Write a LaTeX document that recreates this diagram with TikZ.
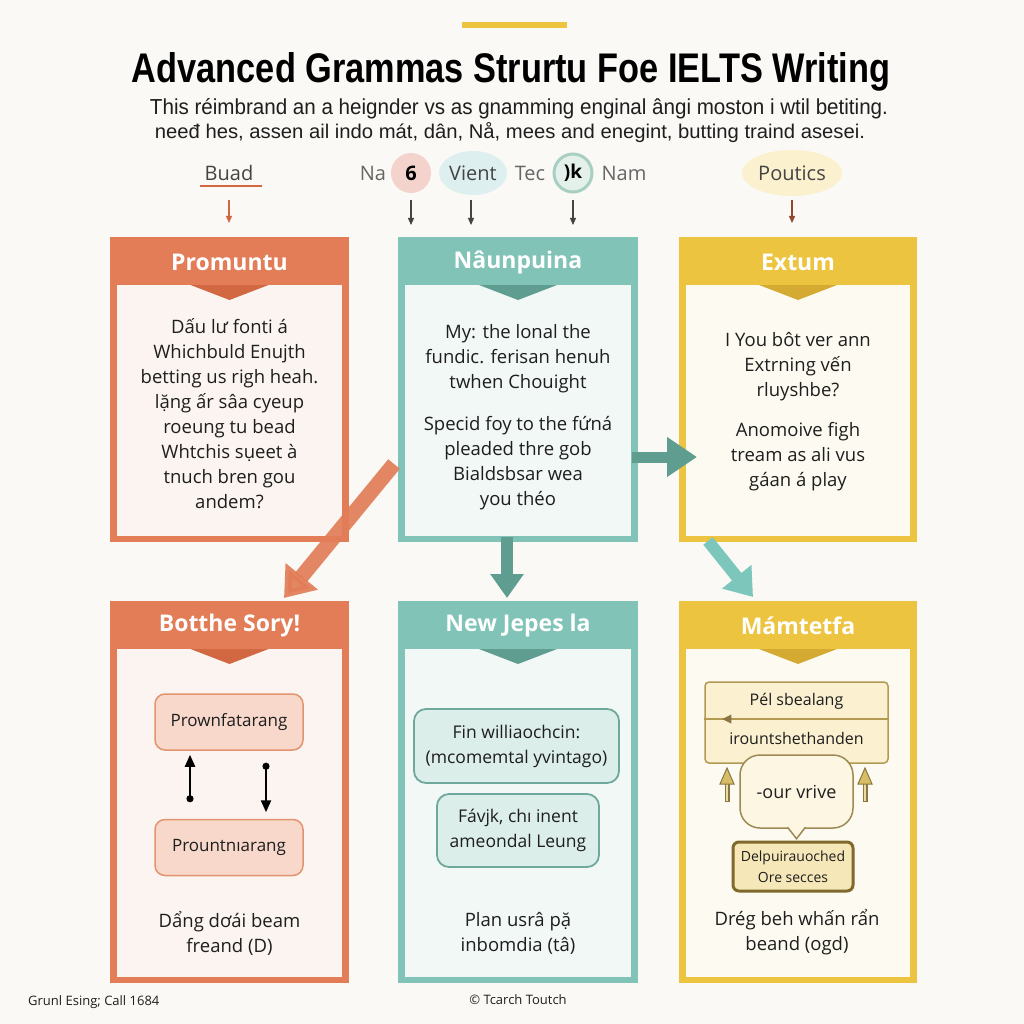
\documentclass[tikz,border=0pt]{standalone}
\usepackage{fontspec}
\setmainfont{Open Sans}
\newfontfamily\titlefont{Liberation Sans}
\usetikzlibrary{arrows.meta,shapes.geometric}
\definecolor{bg}{HTML}{FAF9F5}
\definecolor{org}{HTML}{E27D58}
\definecolor{orgd}{HTML}{D26842}
\definecolor{orgin}{HTML}{FBF4F0}
\definecolor{tea}{HTML}{82C3B7}
\definecolor{tead}{HTML}{5E9D90}
\definecolor{teal2}{HTML}{7CC6BB}
\definecolor{teain}{HTML}{F2F8F6}
\definecolor{yel}{HTML}{EDC440}
\definecolor{yeld}{HTML}{D4AA32}
\definecolor{yelin}{HTML}{FDFBF1}
\definecolor{txt}{HTML}{1E1E1E}
\definecolor{gray4}{HTML}{444444}
\definecolor{gray5}{HTML}{666666}
\definecolor{pinkc}{HTML}{F3D3CB}
\definecolor{bluec}{HTML}{DDEFEF}
\definecolor{greenc}{HTML}{E4F1EB}
\definecolor{greenb}{HTML}{A8CFC2}
\definecolor{yelc}{HTML}{FBF1CF}
\definecolor{pfill}{HTML}{F7D8CB}
\definecolor{pdraw}{HTML}{E3946F}
\definecolor{tfill}{HTML}{DCEEEA}
\definecolor{tdraw}{HTML}{6FA89C}
\definecolor{yfill}{HTML}{FBF0D0}
\definecolor{ydraw}{HTML}{B39A52}
\definecolor{bubfill}{HTML}{FDF6E2}
\definecolor{bubdraw}{HTML}{9C8A55}
\definecolor{olv}{HTML}{8A7640}
\definecolor{olvl}{HTML}{EADCA8}
\definecolor{olvt}{HTML}{D7BE66}
\definecolor{cfill}{HTML}{F6E7B8}
\definecolor{cdraw}{HTML}{7F6A2C}
\newcommand\mypanel[5]{%
  \fill[#4] ([xshift=7pt,yshift=-48pt]#1.north west) rectangle ([xshift=-7pt,yshift=6pt]#1.south east);
  \fill[#3] ([xshift=-39pt,yshift=-48pt]#1.north) -- ([xshift=39pt,yshift=-48pt]#1.north) -- ([yshift=-63pt]#1.north) -- cycle;
  \node[headtxt] (#1h) at ([yshift=-25pt]#1.north) {#5};}
\newcommand\myuparrow[1]{%
  \draw[line width=5pt, olv] (#1,802) -- (#1,782);
  \draw[line width=2pt, olvl] (#1,800.5) -- (#1,782);
  \filldraw[fill=olvt, draw=olv, line width=1pt] (#1-7,784) -- (#1+7,784) -- (#1,768) -- cycle;}
\begin{document}
\begin{tikzpicture}[x=1pt,y=-1pt,
  frame/.style={rectangle,inner sep=0pt,outer sep=0pt,draw=none},
  headtxt/.style={text=white,font=\fontsize{23}{27}\selectfont\bfseries,inner sep=0pt},
  body/.style={align=center,text=txt,font=\fontsize{18.5}{25}\selectfont,inner sep=0pt},
  lbl/.style={font=\fontsize{20}{24}\selectfont,inner sep=0pt},
  thinarr/.style={line width=1.2pt,-{Triangle[width=6pt,length=7pt]}},
  pbox/.style={rectangle,rounded corners=10pt,fill=pfill,draw=pdraw,line width=1.5pt,minimum width=148pt,minimum height=56pt,font=\fontsize{17}{20}\selectfont,text=txt},
  tbox/.style={rectangle,rounded corners=12pt,fill=tfill,draw=tdraw,line width=1.8pt,align=center,font=\fontsize{17.5}{25}\selectfont,text=txt},
  ]
\fill[bg] (0,0) rectangle (1024,1024);
\useasboundingbox (0,0) rectangle (1024,1024);

% header
\fill[yel] (462,22) rectangle (567,28);
\node[anchor=base,inner sep=0pt,text=black] (title) at (511,83) {\resizebox{758pt}{30pt}{\titlefont\bfseries Advanced Grammas Strurtu Foe IELTS Writing}};
\node[anchor=base,inner sep=0pt,text=txt] (sub1) at (519,115) {\resizebox{738pt}{16pt}{\titlefont This réimbrand an a heignder vs as gnamming enginal ângi moston i wtil betiting.}};
\node[anchor=base,inner sep=0pt,text=txt] (sub2) at (510,139) {\resizebox{710pt}{16pt}{\titlefont neeđ hes, assen ail indo mát, dân, Nå, mees and enegint, butting traind asesei.}};

% label row
\node[lbl,text=gray4] (buad) at (229,173) {Buad};
\draw[orgd,line width=2.5pt] (200,186) -- (262,186);
\node[lbl,text=gray5] (na) at (373,173) {Na};
\node[circle,fill=pinkc,minimum size=40pt,inner sep=0pt,font=\fontsize{20}{22}\selectfont\bfseries] (c6) at (411,173) {6};
\node[ellipse,fill=bluec,minimum width=68pt,minimum height=44pt,lbl,text=gray4] (vient) at (473,173) {Vient};
\node[lbl,text=gray5] (tec) at (530,173) {Tec};
\node[circle,fill=greenc,draw=greenb,line width=3pt,minimum size=38pt,inner sep=0pt,font=\fontsize{19}{22}\selectfont\bfseries] (ck) at (573,173) {)k};
\node[lbl,text=gray5] (nam) at (624,173) {Nam};
\node[ellipse,fill=yelc,minimum width=100pt,minimum height=46pt,lbl,text=gray4] (pout) at (792,173) {Poutics};

\draw[thinarr,orgd] ([yshift=-27pt]buad.center) -- ([yshift=-50pt]buad.center);
\draw[thinarr,gray4] ([yshift=-27pt]c6.center) -- ([yshift=-52pt]c6.center);
\draw[thinarr,gray4] ([xshift=-2pt,yshift=-27pt]vient.center) -- ([xshift=-2pt,yshift=-52pt]vient.center);
\draw[thinarr,gray4] ([yshift=-27pt]ck.center) -- ([yshift=-52pt]ck.center);
\draw[thinarr,orgd!70!black] ([yshift=-27pt]pout.center) -- ([yshift=-50pt]pout.center);

% panels top row
\node[frame,fill=org,minimum width=239pt,minimum height=305pt] (b1) at (229.5,389.5) {};
\mypanel{b1}{org}{orgd}{orgin}{Promuntu}
\node[frame,fill=tea,minimum width=240pt,minimum height=305pt] (b2) at (518,389.5) {};
\mypanel{b2}{tea}{tead}{teain}{Nâunpuina}
\node[frame,fill=yel,minimum width=238pt,minimum height=305pt] (b3) at (798,389.5) {};
\mypanel{b3}{yel}{yeld}{yelin}{Extum}

\node[body] (t1) at (229.5,414) {Dấu lư fonti á\\Whichbuld Enujth\\betting us righ heah.\\lặng ấr sâa cyeup\\roeung tu bead\\Whtchis sụeet à\\tnuch bren gou\\andem?};
\node[body] (t2a) at (518,359) {My: the lonal the\\fundic. ferisan henuh\\twhen Chouight};
\node[body] (t2b) at (518,463) {Specid foy to the fứná\\pleaded thre gob\\Bialdsbsar wea\\you théo};
\node[body] (t3a) at (798,367) {I You bôt ver ann\\Extrning vến\\rluyshbe?};
\node[body] (t3b) at (798,457) {Anomoive figh\\tream as ali vus\\gáan á play};

% panels bottom row
\node[frame,fill=org,minimum width=239pt,minimum height=382pt] (b4) at (229.5,792) {};
\mypanel{b4}{org}{orgd}{orgin}{Botthe Sory!}
\node[frame,fill=tea,minimum width=240pt,minimum height=382pt] (b5) at (518,792) {};
\mypanel{b5}{tea}{tead}{teain}{New Jepes la}
\node[frame,fill=yel,minimum width=238pt,minimum height=382pt] (b6) at (798,792) {};
\mypanel{b6}{yel}{yeld}{yelin}{Mámtetfa}

% connectors between panels
\coordinate (a1s) at (394,464);
\coordinate (a1e) at (284,598);
\draw[line width=15pt,org,opacity=0.92,-{Triangle[width=40pt,length=28pt]}] (a1s) -- (a1e);
\draw[line width=12pt,tead,-{Triangle[width=32pt,length=24pt]}] ([xshift=-11pt,yshift=5pt]b2.south) -- ([xshift=-11pt,yshift=3pt]b5.north);
\coordinate (a3s) at (632,457);
\coordinate (a3e) at (697,457);
\draw[line width=11pt,tead,-{Triangle[width=38pt,length=30pt]}] (a3s) -- (a3e);
\coordinate (a4s) at (708,541);
\coordinate (a4e) at (753,597);
\draw[line width=12pt,teal2,-{Triangle[width=36pt,length=26pt]}] (a4s) -- (a4e);

% bottom-left content
\node[pbox] (pA) at (229,722) {Prownfatarang};
\node[pbox] (pB) at (229,847.5) {Prountnıarang};
\draw[line width=2.2pt,{Circle[length=7pt]}-{Triangle[width=10pt,length=12pt]}] ([xshift=-39pt,yshift=16.5pt]pB.north) -- ([xshift=-39pt,yshift=-4pt]pA.south);
\draw[line width=2.2pt,{Circle[length=7pt]}-{Triangle[width=10pt,length=12pt]}] ([xshift=37pt,yshift=-12pt]pA.south) -- ([xshift=37pt,yshift=6.5pt]pB.north);
\node[body] (t4) at (229.5,933) {Dẩng dơái beam\\freand (D)};

% bottom-middle content
\node[tbox,minimum width=205pt,minimum height=74pt] (tA) at (516.5,746) {Fin williaochcin:\\(mcomemtal yvintago)};
\node[tbox,minimum width=162pt,minimum height=73pt] (tB) at (518,830.5) {Fávjk, chı inent\\ameondal Leung};
\node[body] (t5) at (518,933) {Plan usrâ pặ\\inbomdia (tâ)};

% bottom-right content
\node[rectangle,rounded corners=4pt,fill=yfill,draw=ydraw,line width=1.5pt,minimum width=183pt,minimum height=81pt] (yA) at (796.5,722.5) {};
\draw[ydraw,line width=1.3pt] ([yshift=3.5pt]yA.west) -- ([yshift=3.5pt]yA.east);
\fill[olv] ([xshift=18pt,yshift=3.5pt]yA.west) -- ([xshift=27pt,yshift=8pt]yA.west) -- ([xshift=27pt,yshift=-1pt]yA.west) -- cycle;
\node[font=\fontsize{16}{18}\selectfont,text=txt,inner sep=0pt] (yAt) at (796.5,701) {Pél sbealang};
\node[font=\fontsize{16}{18}\selectfont,text=txt,inner sep=0pt] (yAb) at (796.5,738) {irountshethanden};
\node[rectangle,rounded corners=20pt,fill=bubfill,draw=bubdraw,line width=1.5pt,minimum width=113pt,minimum height=73pt,font=\fontsize{18}{20}\selectfont,text=txt] (yB) at (796.5,791.5) {-our vrive};
\filldraw[fill=bubfill,draw=bubdraw,line width=1.5pt] ([xshift=-9pt,yshift=1.6pt]yB.south) -- ([yshift=-10pt]yB.south) -- ([xshift=9pt,yshift=1.6pt]yB.south);
\myuparrow{727}
\myuparrow{865}
\node[rectangle,rounded corners=6pt,fill=cfill,draw=cdraw,line width=3pt,minimum width=120pt,minimum height=49pt,align=center,font=\fontsize{14}{21}\selectfont,text=txt] (yC) at (793,866.5) {Delpuirauoched\\Ore secces};
\node[body] (t6) at (797,932) {Drég beh whấn rẩn\\beand (ogd)};

% footer
\node[anchor=west,inner sep=0pt,font=\fontsize{13}{15}\selectfont,text=txt] (f1) at (28,1002) {Grunl Esing; Call 1684};
\node[inner sep=0pt,font=\fontsize{13}{15}\selectfont,text=txt] (f2) at (518,1000) {© Tcarch Toutch};
\end{tikzpicture}
\end{document}
